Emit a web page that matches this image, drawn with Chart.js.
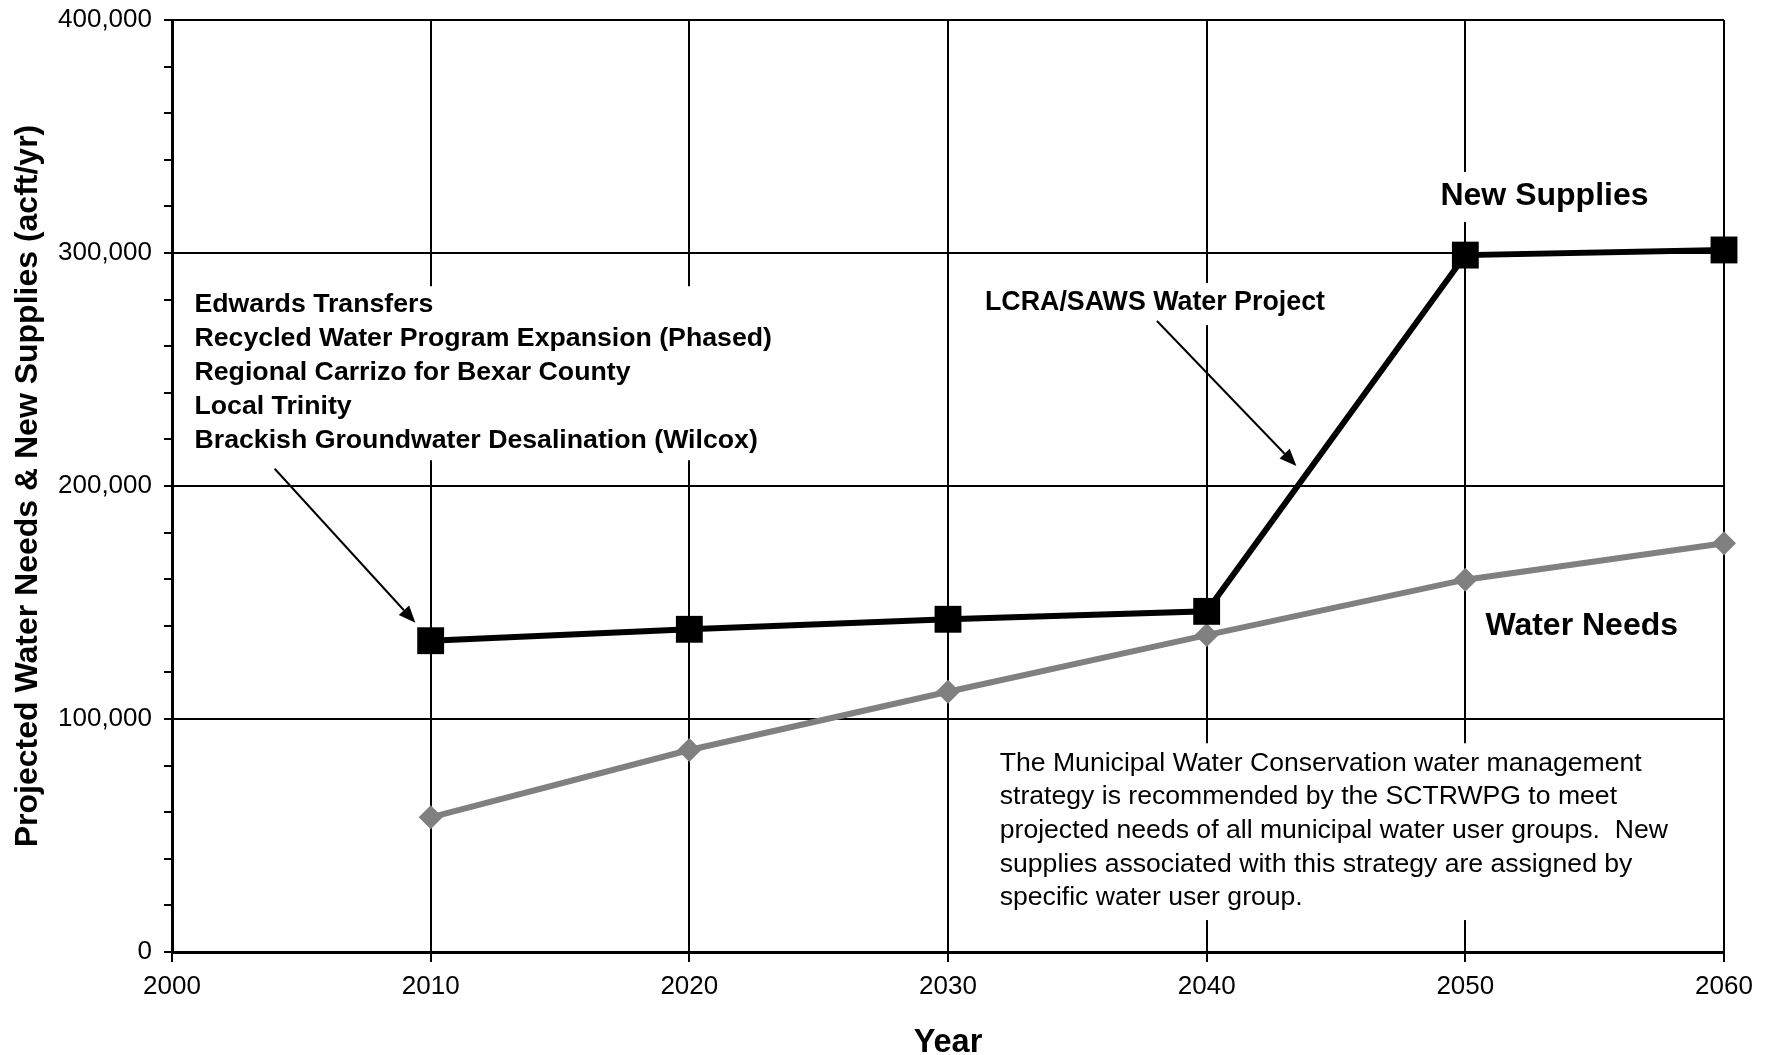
<!DOCTYPE html>
<html>
<head>
<meta charset="utf-8">
<script src="https://cdn.jsdelivr.net/npm/chart.js@4.4.0/dist/chart.umd.min.js"></script>
<style>
  html, body { margin: 0; padding: 0; background: #fff; }
  #wrap { width: 1775px; height: 1055px; }
</style>
</head>
<body>
<div id="wrap"><canvas id="needsChart" width="1775" height="1055"></canvas></div>
<script>
// values (acft/yr)
const years = [2010, 2020, 2030, 2040, 2050, 2060];
const newSupplies = [133600, 138500, 142800, 146200, 299100, 301300];
const waterNeeds = [57800, 86700, 111700, 136000, 159800, 175400];

const strategyNames = [
    'Edwards Transfers',
    'Recycled Water Program Expansion (Phased)',
    'Regional Carrizo for Bexar County',
    'Local Trinity',
    'Brackish Groundwater Desalination (Wilcox)'
];
const lcraLabel = 'LCRA/SAWS Water Project';
const noteLines = [
    'The Municipal Water Conservation water management',
    'strategy is recommended by the SCTRWPG to meet',
    'projected needs of all municipal water user groups.  New',
    'supplies associated with this strategy are assigned by',
    'specific water user group.'
];

const FONT = "'Liberation Sans', Arial, Helvetica, sans-serif";

// text blocks and arrows, anchored in data units
const notesPlugin = {
    id: 'notes',
    beforeDatasetsDraw(chart) {
        const ctx = chart.ctx;
        const px = v => chart.scales.x.getPixelForValue(v);
        const py = v => chart.scales.y.getPixelForValue(v);

        function block(lines, xv, yv, font, gap, pad, align) {
            ctx.save();
            ctx.font = font;
            const w = Math.max(...lines.map(l => ctx.measureText(l).width));
            let left = px(xv);
            if (align === 'center') left -= w / 2;
            const top = py(yv);
            ctx.fillStyle = '#fff';
            ctx.fillRect(left - 6, top - pad, w + 12, (lines.length - 1) * gap + pad * 2 + 2);
            ctx.fillStyle = '#000';
            ctx.textAlign = 'left';
            ctx.textBaseline = 'middle';
            lines.forEach((l, i) => ctx.fillText(l, left, top + i * gap));
            ctx.restore();
        }

        function arrow(x0v, y0v, x1v, y1v) {
            const x0 = px(x0v), y0 = py(y0v), x1 = px(x1v), y1 = py(y1v);
            const a = Math.atan2(y1 - y0, x1 - x0);
            const hl = 17, hw = 7;
            const bx = x1 - hl * Math.cos(a), by = y1 - hl * Math.sin(a);
            ctx.save();
            ctx.strokeStyle = '#000';
            ctx.fillStyle = '#000';
            ctx.lineWidth = 2;
            ctx.beginPath();
            ctx.moveTo(x0, y0);
            ctx.lineTo(bx, by);
            ctx.stroke();
            ctx.beginPath();
            ctx.moveTo(x1, y1);
            ctx.lineTo(bx + hw * Math.sin(a), by - hw * Math.cos(a));
            ctx.lineTo(bx - hw * Math.sin(a), by + hw * Math.cos(a));
            ctx.closePath();
            ctx.fill();
            ctx.restore();
        }

        block(strategyNames, 2000.87, 278000, 'bold 26.7px ' + FONT, 34, 18, 'left');
        block([lcraLabel], 2031.43, 278500, 'bold 26.8px ' + FONT, 34, 20, 'left');
        block(['New Supplies'], 2053.06, 324500, 'bold 32px ' + FONT, 0, 24, 'center');
        block(['Water Needs'], 2054.5, 140000, 'bold 32px ' + FONT, 0, 24, 'center');
        block(noteLines, 2032.0, 81000, '26.6px ' + FONT, 33.7, 20, 'left');

        arrow(2003.97, 207400, 2009.41, 141300);
        arrow(2038.08, 270800, 2043.47, 208600);
    }
};

const ctx = document.getElementById('needsChart').getContext('2d');
new Chart(ctx, {
    type: 'line',
    data: {
        datasets: [
            {
                label: 'New Supplies',
                data: years.map((yr, i) => ({ x: yr, y: newSupplies[i] })),
                borderColor: '#000',
                borderWidth: 6,
                pointStyle: 'rect',
                pointRadius: 19,
                pointBackgroundColor: '#000',
                pointBorderColor: '#000',
                pointBorderWidth: 0,
                tension: 0,
                clip: false
            },
            {
                label: 'Water Needs',
                data: years.map((yr, i) => ({ x: yr, y: waterNeeds[i] })),
                borderColor: '#808080',
                borderWidth: 6,
                pointStyle: 'rectRot',
                pointRadius: 12,
                pointBackgroundColor: '#808080',
                pointBorderColor: '#808080',
                pointBorderWidth: 0,
                tension: 0,
                clip: false
            }
        ]
    },
    options: {
        responsive: false,
        animation: false,
        layout: { padding: { top: 20, right: 51, bottom: 0, left: 0 } },
        plugins: {
            legend: { display: false },
            tooltip: { enabled: false }
        },
        scales: {
            x: {
                type: 'linear',
                min: 2000,
                max: 2060,
                ticks: {
                    stepSize: 10,
                    color: '#000',
                    padding: 9,
                    font: { family: FONT, size: 26 },
                    callback: v => String(v)
                },
                grid: { color: '#000', lineWidth: 2, tickLength: 10, tickColor: '#000', tickWidth: 2 },
                border: { color: '#000', width: 3 },
                title: {
                    display: true,
                    text: 'Year',
                    color: '#000',
                    padding: { top: 0, bottom: 0 },
                    font: { family: FONT, size: 32.5, weight: 'bold', lineHeight: 0.75 }
                },
                afterFit: s => { s.height = 103; }
            },
            y: {
                min: 0,
                max: 400000,
                ticks: {
                    stepSize: 20000,
                    color: '#000',
                    padding: 12,
                    font: { family: FONT, size: 26 },
                    callback: v => (v % 100000 === 0 ? v.toLocaleString('en-US') : '')
                },
                grid: {
                    color: c => (c.tick && c.tick.value % 100000 === 0 ? '#000' : 'rgba(0,0,0,0)'),
                    lineWidth: 2,
                    tickLength: 8,
                    tickColor: '#000',
                    tickWidth: 2
                },
                border: { color: '#000', width: 3 },
                title: {
                    display: true,
                    text: 'Projected Water Needs & New Supplies (acft/yr)',
                    color: '#000',
                    padding: { top: 12, bottom: 0 },
                    font: { family: FONT, size: 32, weight: 'bold', lineHeight: 1 }
                },
                afterFit: s => {
                    s.width = 172;
                    s.paddingTop = 0;
                    s.paddingBottom = 0;
                }
            }
        }
    },
    plugins: [notesPlugin]
});
</script>
</body>
</html>
